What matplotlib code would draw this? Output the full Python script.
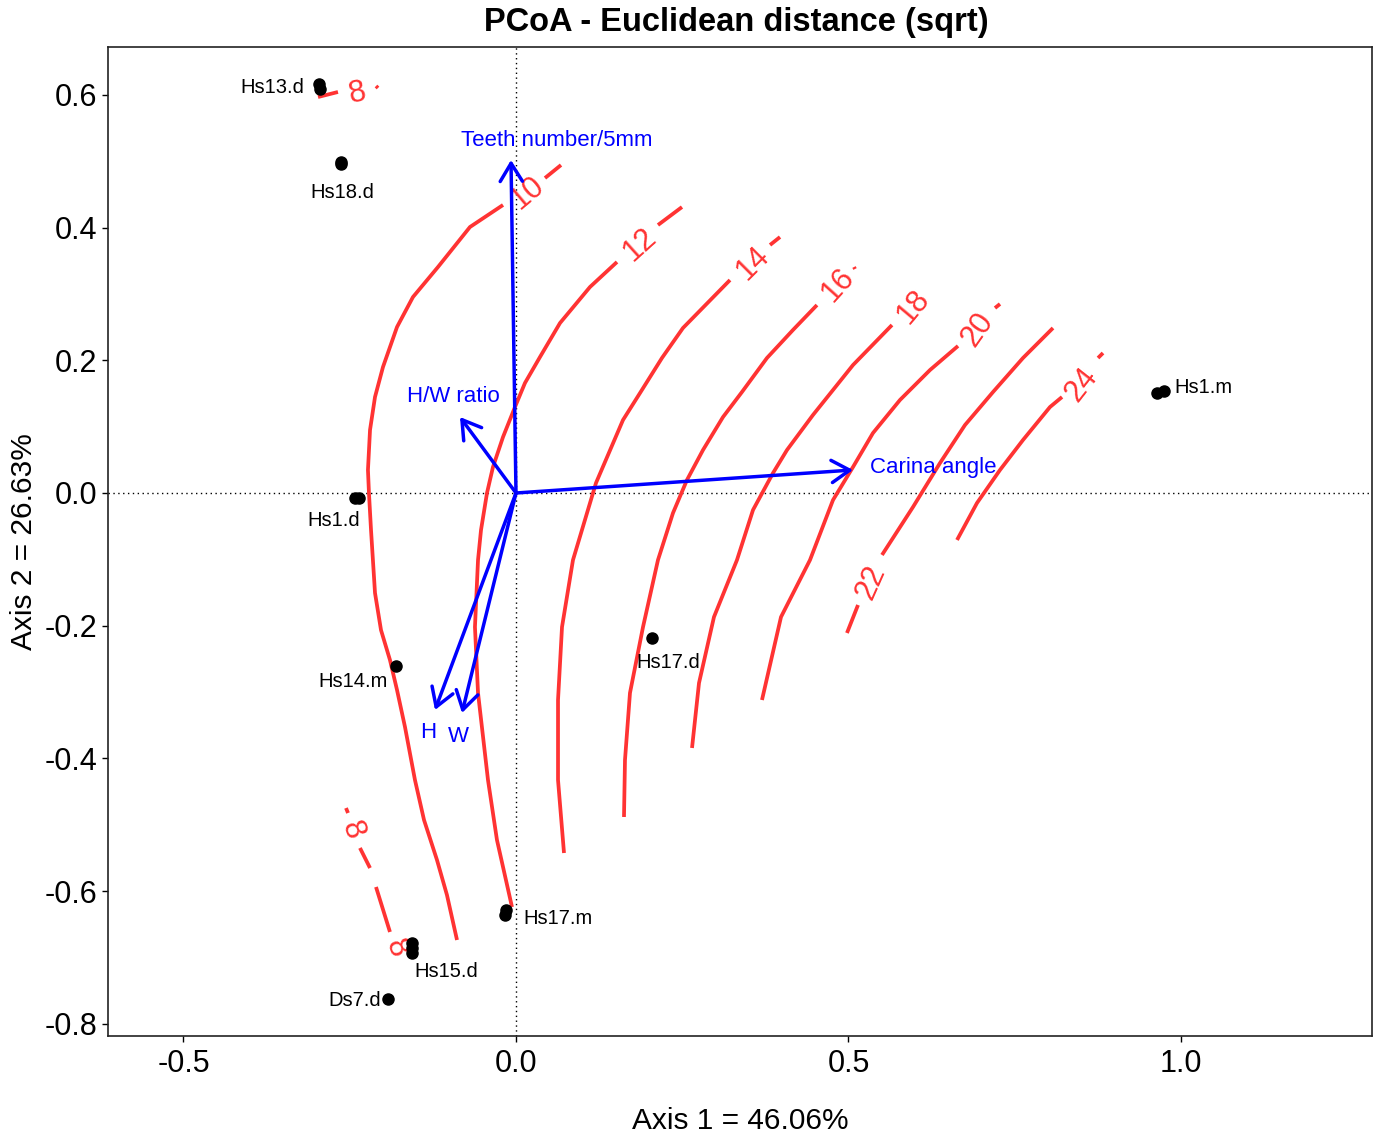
import numpy as np
import matplotlib
matplotlib.use("Agg")
import matplotlib.pyplot as plt

plt.rcParams['font.family'] = ['Liberation Sans', 'DejaVu Sans']
plt.rcParams['axes.unicode_minus'] = False

nan = np.nan

# ---------------- data ----------------
title = "PCoA - Euclidean distance (sqrt)"
xlabel = "Axis 1 = 46.06%"
ylabel = "Axis 2 = 26.63%"

# site scores (replicate dots per sample)
site_names = ["Hs13.d", "Hs13.d", "Hs18.d", "Hs18.d", "Hs1.d", "Hs1.d", "Hs14.m",
              "Hs17.d", "Hs17.m", "Hs17.m", "Hs15.d", "Hs15.d", "Hs15.d", "Ds7.d",
              "Hs1.m", "Hs1.m"]
site_x = [-0.2962, -0.2947, -0.2632, -0.2632, -0.2421, -0.2361, -0.1805,
          0.2045, -0.0150, -0.0165, -0.1564, -0.1564, -0.1564, -0.1925,
          0.9639, 0.9744]
site_y = [0.6164, 0.6089, 0.4989, 0.4959, -0.0075, -0.0075, -0.2607,
          -0.2185, -0.6285, -0.6360, -0.6782, -0.6858, -0.6933, -0.7626,
          0.1507, 0.1537]

# sample labels (anchored on one dot each)
label_names = ["Hs13.d", "Hs18.d", "Hs1.d", "Hs14.m", "Hs17.d", "Hs17.m", "Hs15.d", "Ds7.d", "Hs1.m"]
label_px = [-0.2955, -0.2632, -0.2391, -0.1805, 0.2045, -0.0158, -0.1564, -0.1925, 0.9692]
label_py = [0.6127, 0.4974, -0.0075, -0.2607, -0.2185, -0.6323, -0.6858, -0.7626, 0.1522]

# fitted vectors (envfit)
vec_names = ["Teeth number/5mm", "H/W ratio", "Carina angle", "H", "W"]
vec_x = [-0.0075, -0.0842, 0.5068, -0.1218, -0.0812]
vec_y = [0.5019, 0.1145, 0.0347, -0.3271, -0.3316]
vec_lab_x = [0.0617, -0.0947, 0.5323, -0.1323, -0.0872]
vec_lab_y = [0.5320, 0.1447, 0.0377, -0.3617, -0.3677]

# ordisurf contour paths (NaN separates pieces)
lvl8_x = [-0.2977, -0.2677, nan, -0.2105, -0.2075, nan,
          -0.2556, -0.2526, nan, -0.2346, -0.2195, nan, -0.2105, -0.1895]
lvl8_y = [0.5968, 0.6044, nan, 0.6134, 0.6104, nan,
          -0.4748, -0.4823, nan, -0.5350, -0.5652, nan, -0.5938, -0.6616]

lvl10_x = [0.0677, 0.0436, nan,
           -0.0195, -0.0692, -0.1173, -0.1549, -0.1789, -0.2000, -0.2120, -0.2195,
           -0.2226, -0.2211, -0.2180, -0.2120, -0.2030, -0.1895, -0.1789, -0.1669,
           -0.1519, -0.1383, -0.1188, -0.1038, -0.0887]
lvl10_y = [0.4943, 0.4747, nan,
           0.4341, 0.4009, 0.3406, 0.2954, 0.2502, 0.1899, 0.1447, 0.0950,
           0.0347, 0.0000, -0.0558, -0.1507, -0.2065, -0.2517, -0.2969, -0.3527,
           -0.4326, -0.4928, -0.5531, -0.6059, -0.6737]

lvl12_x = [0.2496, 0.2135, nan,
           0.1519, 0.1113, 0.0662, 0.0361, 0.0135, -0.0015, -0.0195, -0.0346, -0.0436,
           -0.0526, -0.0571, -0.0617, -0.0571, -0.0421, -0.0286, -0.0060]
lvl12_y = [0.4310, 0.4039, nan,
           0.3482, 0.3105, 0.2562, 0.2050, 0.1658, 0.1296, 0.0844, 0.0392, 0.0000,
           -0.0558, -0.1010, -0.2020, -0.3014, -0.4326, -0.5230, -0.6240]

lvl14_x = [0.3970, 0.3820, nan,
           0.3218, 0.2511, 0.2195, 0.1865, 0.1609, 0.1203, 0.0857, 0.0692, 0.0632, 0.0632, 0.0722]
lvl14_y = [0.3858, 0.3738, nan,
           0.3210, 0.2487, 0.2035, 0.1507, 0.1100, 0.0151, -0.1010, -0.2020, -0.3120, -0.4326, -0.5426]

lvl16_x = [0.5098, 0.5083, nan,
           0.4526, 0.4165, 0.3774, 0.3398, 0.3113, 0.2812, 0.2571, 0.2361, 0.2135,
           0.1910, 0.1714, 0.1639, 0.1624]
lvl16_y = [0.3376, 0.3406, nan,
           0.2833, 0.2457, 0.2035, 0.1522, 0.1145, 0.0648, 0.0196, -0.0301, -0.1010,
           -0.2020, -0.3014, -0.4024, -0.4883]

lvl18_x = [0.5654, 0.5068, 0.4466, 0.4075, 0.3865, 0.3564, 0.3323, 0.2977, 0.2752, 0.2647]
lvl18_y = [0.2532, 0.1929, 0.1176, 0.0648, 0.0301, -0.0256, -0.1010, -0.1869, -0.2864, -0.3843]

lvl20_x = [0.7278, 0.7203, nan,
           0.6647, 0.6226, 0.5774, 0.5368, 0.5068, 0.4767, 0.4421, 0.3985, 0.3699]
lvl20_y = [0.2849, 0.2788, nan,
           0.2216, 0.1854, 0.1402, 0.0904, 0.0392, -0.0106, -0.1010, -0.1869, -0.3120]

lvl22_x = [0.8075, 0.7624, 0.7173, 0.6752, 0.6376, 0.5970, 0.5504, nan, 0.5143, 0.4977]
lvl22_y = [0.2487, 0.2035, 0.1522, 0.1025, 0.0452, -0.0211, -0.0934, nan, -0.1688, -0.2110]

lvl24_x = [0.8827, 0.8752, nan, 0.8211, 0.8030, 0.7624, 0.7278, 0.6932, 0.6632]
lvl24_y = [0.2110, 0.2035, nan, 0.1447, 0.1296, 0.0799, 0.0347, -0.0151, -0.0708]

# contour labels
clab_text = ["8", "8", "8", "10", "12", "14", "16", "18", "20", "22", "24"]
clab_x = [-0.2391, -0.2466, -0.1805, 0.0180, 0.1865, 0.3564, 0.4842, 0.5970, 0.6947, 0.5338, 0.8511]
clab_y = [0.6029, -0.5079, -0.6858, 0.4522, 0.3738, 0.3466, 0.3135, 0.2803, 0.2457, -0.1341, 0.1628]
clab_rot = [12, -70, -70, 40, 42, 45, 48, 50, 55, 66, 52]

xticks = [-0.5, 0.0, 0.5, 1.0]
xtick_labels = ["-0.5", "0.0", "0.5", "1.0"]
yticks = [-0.8, -0.6, -0.4, -0.2, 0.0, 0.2, 0.4, 0.6]
ytick_labels = ["-0.8", "-0.6", "-0.4", "-0.2", "0.0", "0.2", "0.4", "0.6"]

# ---------------- plot ----------------
W, H = 1379, 1133
fig = plt.figure(figsize=(W / 100, H / 100), dpi=100)
ax = fig.add_axes([108 / W, 1 - 1036 / H, (1372 - 108) / W, (1036 - 47) / H])
ax.set_xlim(-0.6135, 1.2872)
ax.set_ylim(-0.8184, 0.6722)

red = "#FF3333"
blue = "#0000FF"

ax.axhline(0, color="black", lw=1.0, ls=(0, (1, 2.5)), zorder=1)
ax.axvline(0, color="black", lw=1.0, ls=(0, (1, 2.5)), zorder=1)

for cx, cy in [(lvl8_x, lvl8_y), (lvl10_x, lvl10_y), (lvl12_x, lvl12_y), (lvl14_x, lvl14_y),
               (lvl16_x, lvl16_y), (lvl18_x, lvl18_y), (lvl20_x, lvl20_y),
               (lvl22_x, lvl22_y), (lvl24_x, lvl24_y)]:
    ax.plot(cx, cy, color=red, lw=2.7, solid_capstyle="butt", solid_joinstyle="round", zorder=2)

for t, x, y, r in zip(clab_text, clab_x, clab_y, clab_rot):
    ax.text(x, y, t, color=red, fontsize=22, rotation=r, ha="center", va="center",
            rotation_mode="anchor", zorder=3)

ax.plot(site_x, site_y, "o", color="black", ms=8, mec="black", zorder=4)

lab_offsets = {"Hs13.d": (-11, -1, "right"), "Hs18.d": (1, -21, "center"),
               "Hs1.d": (-17, -16, "center"), "Hs14.m": (-6, -11, "right"),
               "Hs17.d": (12, -18, "center"), "Hs17.m": (13, -4, "left"),
               "Hs15.d": (25, -17, "center"), "Ds7.d": (-5, -1, "right"),
               "Hs1.m": (10, 3, "left")}
for n, x, y in zip(label_names, label_px, label_py):
    dx, dy, ha = lab_offsets[n]
    ax.annotate(n, (x, y), xytext=(dx, dy), textcoords="offset points",
                ha=ha, va="center", fontsize=14.5, color="black", zorder=5)

for n, x, y, lx, ly in zip(vec_names, vec_x, vec_y, vec_lab_x, vec_lab_y):
    ax.annotate("", xy=(x, y), xytext=(0, 0),
                arrowprops=dict(arrowstyle="->,head_length=1.3,head_width=0.8",
                                lw=2.5, color=blue, mutation_scale=10,
                                shrinkA=0, shrinkB=0), zorder=6)
    ha = "left" if n == "Carina angle" else "center"
    ax.text(lx, ly, n, color=blue, fontsize=16, ha=ha, va="center", zorder=6)

ax.set_xticks(xticks)
ax.set_xticklabels(xtick_labels)
ax.set_yticks(yticks)
ax.set_yticklabels(ytick_labels)
ax.tick_params(axis="both", labelsize=22, length=4.5, width=1.0, direction="out", colors="black")
ax.tick_params(axis="x", pad=5)
ax.tick_params(axis="y", pad=3)
for s in ax.spines.values():
    s.set_linewidth(1.2)
    s.set_color("#222222")

ax.set_xlabel(xlabel, fontsize=21.5)
ax.xaxis.set_label_coords(0.5, -0.072)
ax.set_ylabel(ylabel, fontsize=21.5)
ax.yaxis.set_label_coords(-0.0554, 0.5)

fig.text(736 / W, 1 - 23 / H, title, fontsize=23.5, fontweight="bold", ha="center", va="center")

fig.savefig("out.png", dpi=100)
